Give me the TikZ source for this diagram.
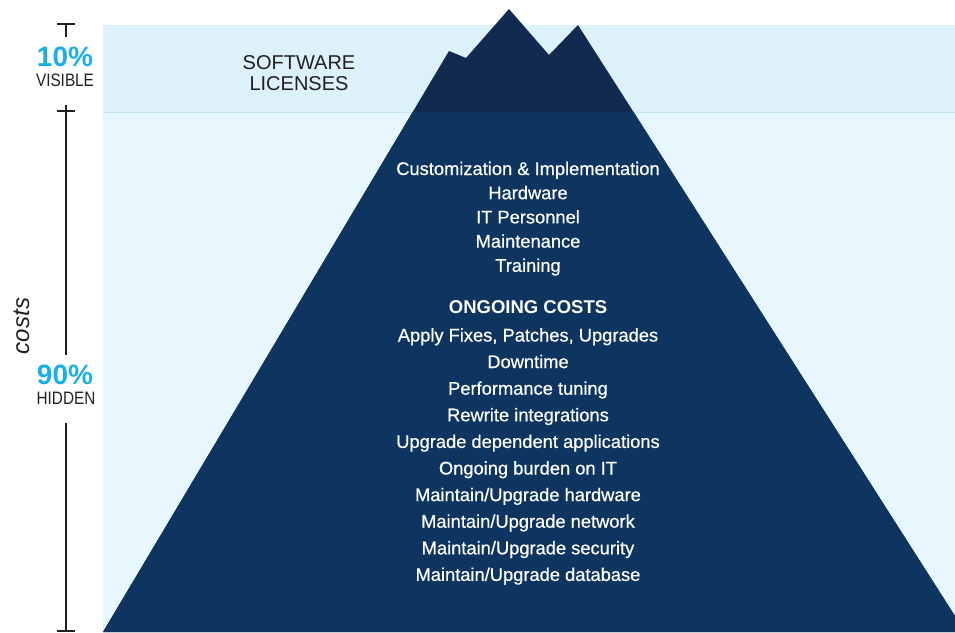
\documentclass[tikz,border=0pt]{standalone}
\usepackage{fontspec}
\setmainfont{Liberation Sans}
\newfontfamily\narrowsans[FakeStretch=0.85]{Liberation Sans}
\newfontfamily\medsans[FakeBold=0.5]{Liberation Sans}
\definecolor{bandtop}{HTML}{DCF1FA}
\definecolor{bandlow}{HTML}{E8F6FD}
\definecolor{bandline}{HTML}{C5E6F5}
\definecolor{mtop}{HTML}{132A50}
\definecolor{mlow}{HTML}{0E355F}
\definecolor{cyanpct}{HTML}{1BAEE8}
\definecolor{ink}{HTML}{231F20}
\tikzset{
  mtext/.style={text=white, anchor=base, inner sep=0pt, font=\medsans\fontsize{18.3}{20}\selectfont},
  mhead/.style={text=white, anchor=base, inner sep=0pt, font=\fontsize{18.5}{20}\selectfont\bfseries},
  pct/.style={text=cyanpct, anchor=base, inner sep=0pt, font=\fontsize{28}{30}\selectfont\bfseries},
  pctlabel/.style={text=ink, anchor=base, inner sep=0pt, font=\narrowsans\fontsize{18}{20}\selectfont},
  swlabel/.style={text=ink, anchor=base, inner sep=0pt, font=\fontsize{20}{22}\selectfont},
  axis/.style={draw=ink, line width=2pt},
}
\begin{document}
\begin{tikzpicture}[x=1pt,y=-1pt]
\useasboundingbox (0,0) rectangle (955,632);
% bands
\fill[bandlow] (103,112) rectangle (955,632);
\fill[bandtop] (103,25) rectangle (955,112);
\draw[bandline, line width=1pt] (103,112) -- (955,112);
% mountain
\fill[mtop] (103,632) -- (449,51) -- (466,58) -- (509,9) -- (549,55) -- (578,25) -- (955,616) -- (955,632) -- cycle;
\begin{scope}
\clip (0,112.5) rectangle (955,632);
\fill[mlow] (103,632) -- (449,51) -- (466,58) -- (509,9) -- (549,55) -- (578,25) -- (955,616) -- (955,632) -- cycle;
\end{scope}
% axis
\coordinate (a1) at (66,24);
\coordinate (a2) at (66,37);
\coordinate (a3) at (66,105);
\coordinate (a4) at (66,355);
\coordinate (a5) at (66,423);
\coordinate (a6) at (66,631);
\draw[axis] (57,24) -- (75,24);
\draw[axis] (a1) -- (a2);
\draw[axis] (57,111) -- (75,111);
\draw[axis] (a3) -- (a4);
\draw[axis] (a5) -- (a6);
\draw[axis] (57,631) -- (75,631);
% left labels
\node[pct] (p10) at (65,66) {10\%};
\node[pctlabel] (vis) at (65,86) {VISIBLE};
\node[pct] (p90) at (65,384) {90\%};
\node[pctlabel] (hid) at (66,404.5) {HIDDEN};
\node[text=ink, anchor=base, inner sep=0pt, rotate=90, font=\fontsize{24}{26}\selectfont\itshape] (costs) at (29,326) {costs};
% software licenses
\node[swlabel] (sw1) at (299,69) {SOFTWARE};
\node[swlabel] (sw2) at (299,90) {LICENSES};
% mountain text
\node[mtext] (t1) at (528,175) {Customization \& Implementation};
\node[mtext] (t2) at (528,199.2) {Hardware};
\node[mtext] (t3) at (528,223.4) {IT Personnel};
\node[mtext] (t4) at (528,247.6) {Maintenance};
\node[mtext] (t5) at (528,271.8) {Training};
\node[mhead] (h1) at (528,313) {ONGOING COSTS};
\node[mtext] (u1) at (528,341.5) {Apply Fixes, Patches, Upgrades};
\node[mtext] (u2) at (528,368.1) {Downtime};
\node[mtext] (u3) at (528,394.7) {Performance tuning};
\node[mtext] (u4) at (528,421.3) {Rewrite integrations};
\node[mtext] (u5) at (528,447.9) {Upgrade dependent applications};
\node[mtext] (u6) at (528,474.5) {Ongoing burden on IT};
\node[mtext] (u7) at (528,501.1) {Maintain/Upgrade hardware};
\node[mtext] (u8) at (528,527.7) {Maintain/Upgrade network};
\node[mtext] (u9) at (528,554.3) {Maintain/Upgrade security};
\node[mtext] (u10) at (528,580.9) {Maintain/Upgrade database};
\end{tikzpicture}
\end{document}
